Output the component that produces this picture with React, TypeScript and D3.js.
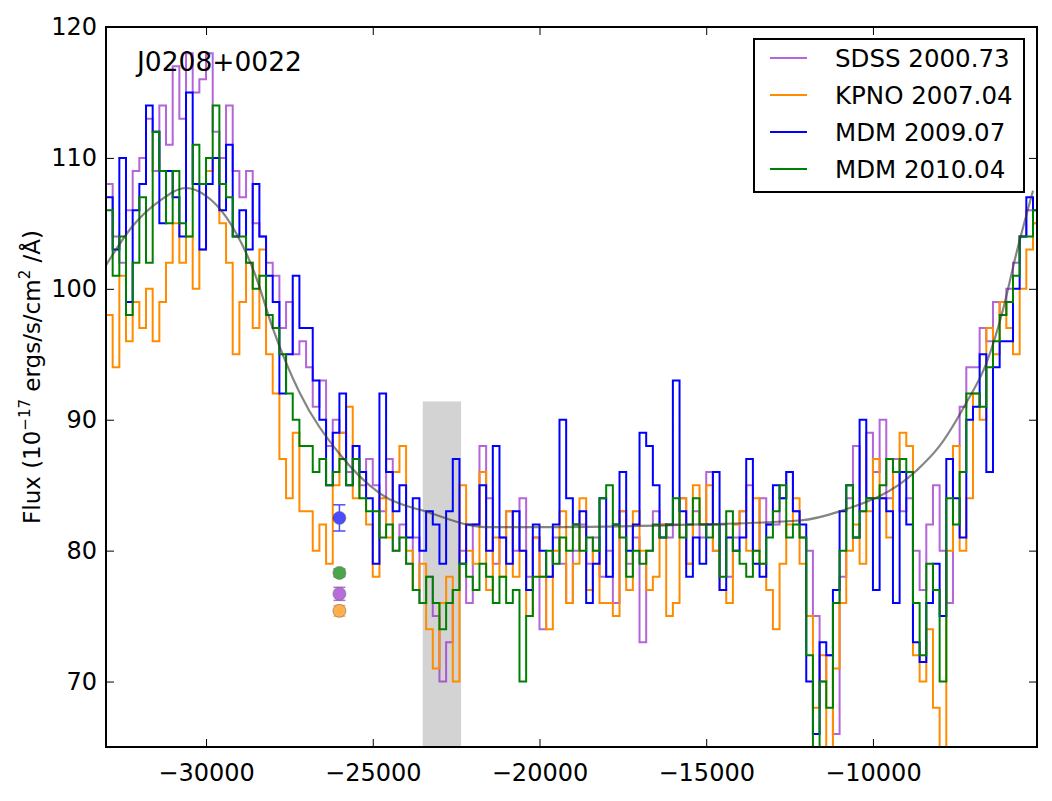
import { useEffect, useRef } from "react";
import * as d3 from "d3";

// velocity bins (km/s), 200 km/s wide, left edges
const velocityBins = d3.range(-33000, -5000, 200);

const sdss2000 = [
  108, 104, 102, 106, 109, 110, 113, 109, 114, 111,
  117, 113, 118, 115, 116, 118, 112, 110, 114, 109,
  107, 109, 105, 104, 102, 101, 97, 99, 95, 96,
  94, 91, 93, 88, 90, 89, 86, 88, 85, 87,
  85, 83, 87, 80, 82, 79, 81, 76, 78, 75,
  70, 73, 77, 80, 76, 82, 88, 84, 79, 81,
  83, 80, 84, 78, 81, 74, 78, 81, 79, 76,
  80, 82, 79, 81, 78, 80, 76, 83, 79, 81,
  73, 80, 83, 82, 81, 82, 84, 79, 83, 81,
  86, 80, 82, 78, 81, 83, 85, 80, 84, 82,
  82, 84, 86, 83, 81, 80, 75, 70, 72, 66,
  78, 84, 88, 83, 89, 86, 90, 84, 87, 83,
  84, 80, 77, 82, 85, 80, 76, 88, 91, 94,
  94, 97, 96, 99, 98, 100, 102, 104, 106, 105,
];

const kpno2007 = [
  98, 94, 101, 96, 99, 97, 100, 96, 99, 102,
  105, 102, 104, 100, 103, 109, 110, 105, 102, 95,
  99, 102, 97, 103, 95, 92, 87, 84, 89, 83,
  83, 80, 82, 79, 85, 89, 91, 84, 86, 82,
  78, 84, 81, 86, 88, 80, 77, 79, 74, 71,
  76, 78, 70, 85, 80, 79, 86, 77, 81, 78,
  83, 78, 80, 75, 81, 78, 74, 80, 83, 76,
  79, 84, 77, 80, 76, 76, 75, 83, 77, 83,
  80, 77, 78, 82, 75, 76, 84, 79, 85, 82,
  85, 80, 77, 76, 82, 83, 80, 84, 79, 77,
  74, 79, 82, 84, 79, 75, 68, 72, 64, 71,
  76, 80, 82, 79, 83, 87, 84, 81, 86, 89,
  88, 72, 70, 74, 68, 64, 80, 88, 80, 84,
  92, 90, 97, 95, 99, 97, 95, 100, 103, 105,
];

const mdm2009 = [
  107, 103, 110, 99, 106, 108, 114, 112, 105, 109,
  107, 104, 115, 108, 103, 108, 110, 106, 111, 104,
  106, 103, 108, 104, 101, 99, 92, 95, 101, 97,
  97, 93, 90, 85, 89, 92, 85, 88, 86, 84,
  79, 92, 86, 83, 85, 81, 84, 80, 83, 82,
  79, 83, 87, 79, 82, 82, 85, 80, 88, 81,
  79, 83, 80, 77, 82, 80, 78, 82, 90, 84,
  82, 83, 76, 79, 84, 78, 82, 86, 80, 82,
  89, 88, 85, 81, 82, 93, 83, 78, 81, 79,
  82, 86, 77, 81, 80, 81, 87, 79, 78, 82,
  85, 84, 86, 83, 82, 70, 66, 73, 72, 77,
  83, 85, 81, 90, 84, 77, 84, 83, 76, 86,
  82, 73, 71.5, 76, 79, 75, 87, 84, 81, 90,
  91, 95, 86, 94, 96, 96, 100, 104, 107, 106,
];

const mdm2010 = [
  106, 101, 104, 98, 102, 107, 102, 112, 109, 105,
  109, 105, 104, 111, 108, 110, 114, 108, 107, 104,
  104, 102, 100, 101, 98, 97, 95, 92, 90, 88,
  88, 86, 87, 85, 86, 87, 85, 87, 84, 83,
  83, 81, 82, 80, 81, 79, 77, 76, 78, 76,
  74, 76, 77, 79, 78, 77, 79, 78, 76, 78,
  76, 77, 70, 75, 78, 78, 80, 79, 81, 80,
  82, 80, 81, 80, 84, 85, 82, 81, 78, 80,
  79, 80, 82, 81, 82, 84, 81, 82, 84, 82,
  81, 82, 78, 83, 80, 79, 78, 80, 79, 81,
  83, 85, 81, 82, 81, 72, 64, 70, 68, 76,
  80, 85, 81, 83, 84, 84, 85, 87, 86, 87,
  86, 76, 72, 79, 77, 70, 84, 82, 86, 92,
  92, 91, 94, 96, 98, 99, 101, 104, 104, 106,
];

const seriesLabels = ["SDSS 2000.73", "KPNO 2007.04", "MDM 2009.07", "MDM 2010.04"];
const seriesColors = ["#9932cc", "#ff8c00", "#0000ff", "#008000"];
const seriesOpacity = [0.75, 1, 1, 1];

// continuum fit
const continuumVelocity = [
  -33000, -32200, -31400, -30600, -30000, -29400, -28500, -28000, -27200,
  -26000, -24800, -23300, -21600, -19400, -15200, -12200, -11000, -8700,
  -8000, -7200, -6600, -6100, -5700, -5200,
];
const continuumFlux = [
  101.8, 104.8, 106.7, 107.7, 107.1, 105.5, 100.9, 97.0, 92.1,
  87.4, 84.4, 82.9, 81.8, 81.8, 82.0, 82.3, 83.0, 86.1,
  88.0, 91.3, 94.3, 98.4, 102.7, 107.5,
];

// broad-band points at one velocity, same order as the series
const photVelocity = -26000;
const photFlux = [76.7, 75.4, 82.5, 78.3];
const photError = [0.5, 0.4, 1.0, 0.3];

// masked window
const maskRange = [-23500, -22350];
const maskTop = 91.4;

const xTicks = [-30000, -25000, -20000, -15000, -10000];
const yTicks = [70, 80, 90, 100, 110, 120];

const SpectrumChart = () => {
  const chartRef = useRef(null);

  useEffect(() => {
    const width = 1052;
    const height = 801;
    const marginLeft = 106;
    const marginRight = 15;
    const marginTop = 27;
    const marginBottom = 54;
    const font = "DejaVu Sans, sans-serif";

    const svg = d3
      .select(chartRef.current)
      .append("svg")
      .attr("width", width)
      .attr("height", height)
      .style("display", "block");

    const x = d3
      .scaleLinear()
      .domain([-33000, -5080])
      .range([marginLeft, width - marginRight]);

    const y = d3
      .scaleLinear()
      .domain([65, 120])
      .range([height - marginBottom, marginTop]);

    svg
      .append("defs")
      .append("clipPath")
      .attr("id", "plot-clip")
      .append("rect")
      .attr("x", marginLeft)
      .attr("y", marginTop)
      .attr("width", width - marginLeft - marginRight)
      .attr("height", height - marginTop - marginBottom);

    const plot = svg.append("g").attr("clip-path", "url(#plot-clip)");

    plot
      .append("rect")
      .attr("x", x(maskRange[0]))
      .attr("width", x(maskRange[1]) - x(maskRange[0]))
      .attr("y", y(maskTop))
      .attr("height", y(65) - y(maskTop))
      .attr("fill", "#d3d3d3");

    const step = d3
      .line<[number, number]>()
      .x((d) => x(d[0]))
      .y((d) => y(d[1]))
      .curve(d3.curveStepAfter);

    [sdss2000, kpno2007, mdm2009, mdm2010].forEach((values, k) => {
      const pts: [number, number][] = velocityBins.map((v, i) => [v, values[i]]);
      pts.push([velocityBins[velocityBins.length - 1] + 200, values[values.length - 1]]);
      plot
        .append("path")
        .datum(pts)
        .attr("d", step)
        .attr("fill", "none")
        .attr("stroke", seriesColors[k])
        .attr("stroke-opacity", seriesOpacity[k])
        .attr("stroke-width", 2);
    });

    const smooth = d3
      .line<[number, number]>()
      .x((d) => x(d[0]))
      .y((d) => y(d[1]))
      .curve(d3.curveMonotoneX);

    plot
      .append("path")
      .datum(continuumVelocity.map((v, i) => [v, continuumFlux[i]] as [number, number]))
      .attr("d", smooth)
      .attr("fill", "none")
      .attr("stroke", "#333")
      .attr("stroke-opacity", 0.6)
      .attr("stroke-width", 2.2);

    // photometry with error bars
    photFlux.forEach((f, k) => {
      const cx = x(photVelocity);
      const g = plot.append("g").attr("opacity", 0.7);
      g.append("line")
        .attr("x1", cx)
        .attr("x2", cx)
        .attr("y1", y(f - photError[k]))
        .attr("y2", y(f + photError[k]))
        .attr("stroke", seriesColors[k])
        .attr("stroke-width", 1.5);
      [f - photError[k], f + photError[k]].forEach((e) => {
        g.append("line")
          .attr("x1", cx - 6)
          .attr("x2", cx + 6)
          .attr("y1", y(e))
          .attr("y2", y(e))
          .attr("stroke", seriesColors[k])
          .attr("stroke-width", 1.5);
      });
      g.append("circle")
        .attr("cx", cx)
        .attr("cy", y(f))
        .attr("r", 6.5)
        .attr("fill", seriesColors[k])
        .attr("stroke", "#333")
        .attr("stroke-width", 0.6);
    });

    // axes, ticks pointing inward on all four sides
    const styleAxis = (g: d3.Selection<SVGGElement, unknown, null, undefined>) => {
      g.select(".domain").remove();
      g.selectAll(".tick line").attr("stroke", "#000").attr("stroke-width", 1);
      g.selectAll(".tick text")
        .attr("fill", "#000")
        .style("font-family", font)
        .style("font-size", "24px");
    };

    svg
      .append("g")
      .attr("transform", `translate(0,${height - marginBottom})`)
      .call(d3.axisBottom(x).tickValues(xTicks).tickSize(-8).tickPadding(17).tickFormat(d3.format("d")))
      .call(styleAxis);

    svg
      .append("g")
      .attr("transform", `translate(0,${marginTop})`)
      .call(d3.axisTop(x).tickValues(xTicks).tickSize(-8).tickFormat(() => ""))
      .call(styleAxis);

    svg
      .append("g")
      .attr("transform", `translate(${marginLeft},0)`)
      .call(d3.axisLeft(y).tickValues(yTicks).tickSize(-8).tickPadding(9))
      .call(styleAxis);

    svg
      .append("g")
      .attr("transform", `translate(${width - marginRight},0)`)
      .call(d3.axisRight(y).tickValues(yTicks).tickSize(-8).tickFormat(() => ""))
      .call(styleAxis);

    svg
      .append("rect")
      .attr("x", marginLeft)
      .attr("y", marginTop)
      .attr("width", width - marginLeft - marginRight)
      .attr("height", height - marginTop - marginBottom)
      .attr("fill", "none")
      .attr("stroke", "#000")
      .attr("stroke-width", 2);

    // object name
    svg
      .append("text")
      .attr("x", 137)
      .attr("y", 71)
      .style("font-family", font)
      .style("font-size", "26.5px")
      .text("J0208+0022");

    // y label
    const ylab = svg
      .append("text")
      .attr("transform", `translate(40,${(marginTop + height - marginBottom) / 2 - 10}) rotate(-90)`)
      .attr("text-anchor", "middle")
      .style("font-family", font)
      .style("font-size", "23px");
    ylab.append("tspan").text("Flux (10");
    ylab.append("tspan").attr("dy", -10).style("font-size", "15px").text("\u221217");
    ylab.append("tspan").attr("dy", 10).text(" ergs/s/cm");
    ylab.append("tspan").attr("dy", -10).style("font-size", "15px").text("2");
    ylab.append("tspan").attr("dy", 10).text(" /\u00c5)");

    // legend
    const legend = svg.append("g");
    legend
      .append("rect")
      .attr("x", 754)
      .attr("y", 39)
      .attr("width", 270)
      .attr("height", 153)
      .attr("fill", "#fff")
      .attr("stroke", "#000")
      .attr("stroke-width", 2);
    seriesLabels.forEach((label, k) => {
      const ly = 58 + k * 37;
      legend
        .append("line")
        .attr("x1", 770)
        .attr("x2", 807)
        .attr("y1", ly)
        .attr("y2", ly)
        .attr("stroke", seriesColors[k])
        .attr("stroke-opacity", seriesOpacity[k])
        .attr("stroke-width", 2);
      legend
        .append("text")
        .attr("x", 835)
        .attr("y", ly)
        .attr("dy", "0.36em")
        .style("font-family", font)
        .style("font-size", "24.5px")
        .text(label);
    });

    return () => {
      d3.select(chartRef.current).selectAll("*").remove();
    };
  }, []);

  return <div ref={chartRef} style={{ position: "absolute", left: 0, top: 0 }}></div>;
};

export default function App() {
  return <SpectrumChart />;
}
